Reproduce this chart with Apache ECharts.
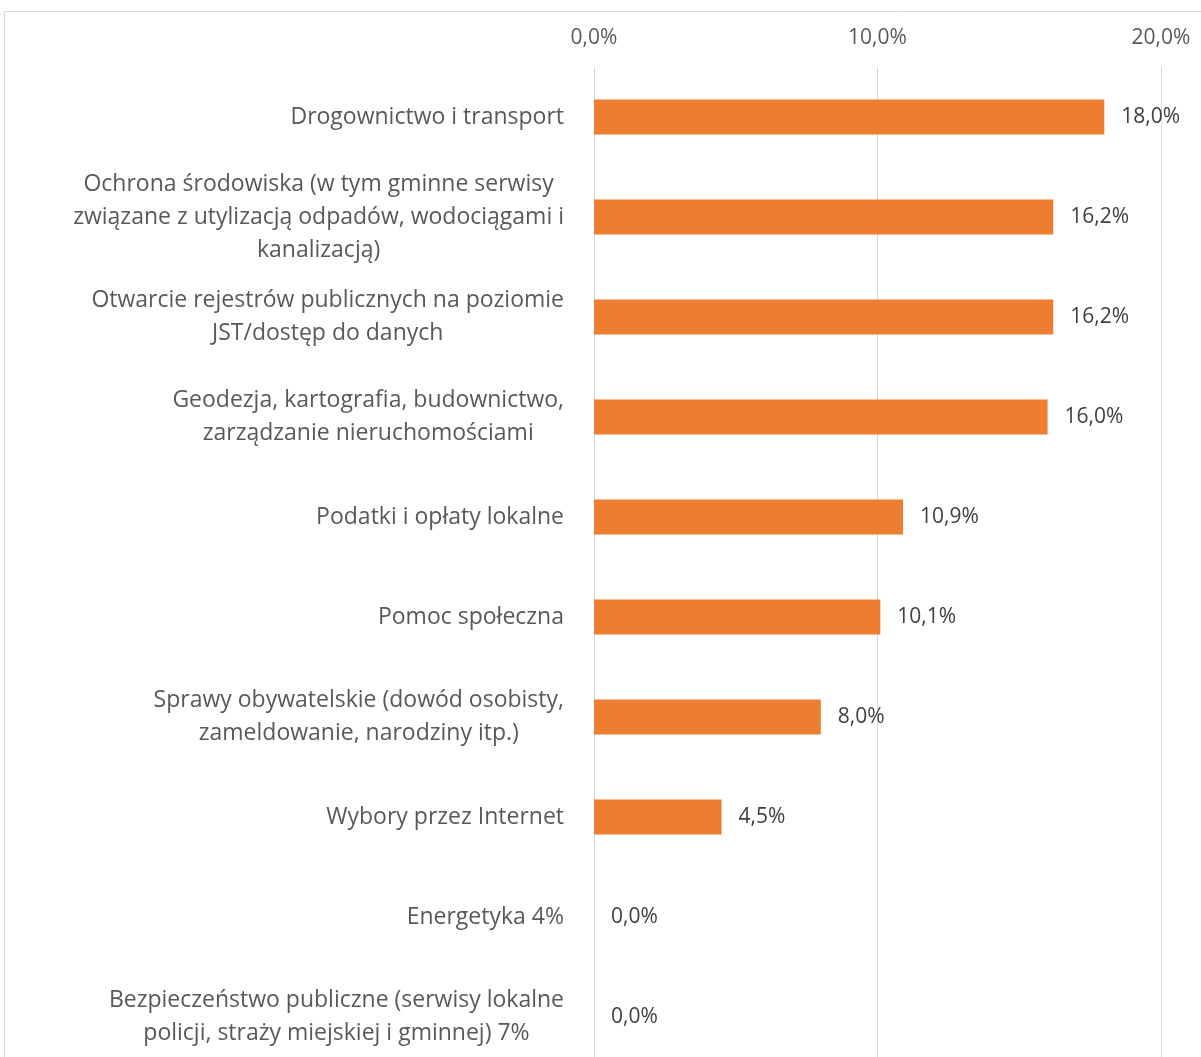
<!DOCTYPE html>
<html>
<head>
<meta charset="utf-8">
<script src="https://cdn.jsdelivr.net/npm/echarts@6/dist/echarts.min.js"></script>
<style>
  html, body { margin: 0; padding: 0; background: #fff; }
  #chart { width: 1201px; height: 1057px; }
</style>
</head>
<body>
<div id="chart"></div>
<script>
// Categories (top to bottom) and their shares in percent
const categories = [
  'Drogownictwo i transport',
  'Ochrona środowiska (w tym gminne serwisy\nzwiązane z utylizacją odpadów, wodociągami i\nkanalizacją)',
  'Otwarcie rejestrów publicznych na poziomie\nJST/dostęp do danych',
  'Geodezja, kartografia, budownictwo,\nzarządzanie nieruchomościami',
  'Podatki i opłaty lokalne',
  'Pomoc społeczna',
  'Sprawy obywatelskie (dowód osobisty,\nzameldowanie, narodziny itp.)',
  'Wybory przez Internet',
  'Energetyka 4%',
  'Bezpieczeństwo publiczne (serwisy lokalne\npolicji, straży miejskiej i gminnej) 7%'
];
const shares = [18.0, 16.2, 16.2, 16.0, 10.9, 10.1, 8.0, 4.5, 0.0, 0.0];
const axisMin = 0;
const axisMax = 20;
const axisStep = 10;

const FONT = '"Open Sans", "Noto Sans", sans-serif';
const pct = v => v.toFixed(1).replace('.', ',') + '%';

const chart = echarts.init(document.getElementById('chart'), null, { renderer: 'canvas' });
chart.setOption({
  animation: false,
  backgroundColor: '#ffffff',
  grid: {
    left: 594, top: 67, width: 567, height: 1000,
    containLabel: false,
    outerBoundsMode: 'none'
  },
  graphic: [{
    type: 'rect',
    shape: { x: 4.5, y: 11.5, width: 1300, height: 1200 },
    style: { fill: 'none', stroke: '#d9d9d9', lineWidth: 1 },
    silent: true, z: -10
  }],
  xAxis: {
    type: 'value',
    position: 'top',
    min: axisMin, max: axisMax, interval: axisStep,
    axisLine: { show: false },
    axisTick: { show: false },
    splitLine: { show: true, lineStyle: { color: '#d9d9d9', width: 1 } },
    axisLabel: {
      margin: 18,
      color: '#595959',
      fontFamily: FONT,
      fontSize: 21,
      formatter: v => pct(v)
    }
  },
  yAxis: {
    type: 'category',
    inverse: true,
    data: categories,
    axisLine: { show: false },
    axisTick: { show: false },
    splitLine: { show: false },
    axisLabel: {
      margin: 30,
      color: '#595959',
      fontFamily: FONT,
      fontSize: 23,
      lineHeight: 33,
      formatter: s => s.split('\n').map(l => '{c|' + l + '}').join('\n'),
      rich: {
        c: { align: 'center', color: '#595959', fontFamily: FONT, fontSize: 23, lineHeight: 33 }
      }
    }
  },
  series: [{
    type: 'bar',
    data: shares,
    barWidth: 35,
    itemStyle: { color: '#ed7d31' },
    label: {
      show: true,
      position: 'right',
      distance: 17,
      color: '#404040',
      fontFamily: FONT,
      fontSize: 21,
      formatter: p => pct(p.value)
    }
  }]
});
</script>
</body>
</html>
